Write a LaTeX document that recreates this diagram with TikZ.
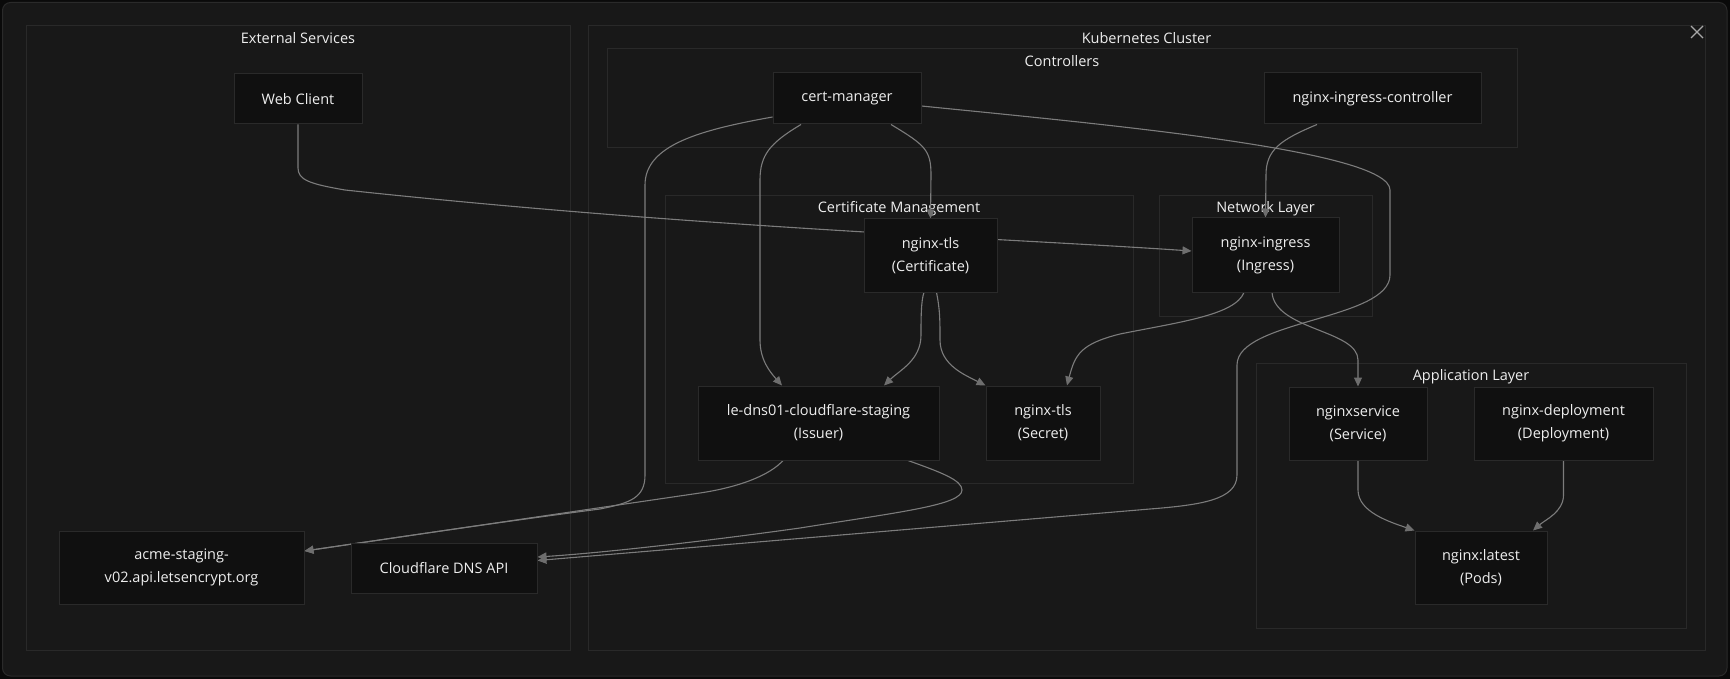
\documentclass[tikz,border=0pt]{standalone}
\usepackage{fontspec}
\setmainfont{Open Sans}
\usetikzlibrary{arrows.meta}
\pgfdeclarelayer{back}
\pgfdeclarelayer{edgelayer}
\pgfsetlayers{back,edgelayer,main}
\definecolor{outerbg}{HTML}{0A0A0A}
\definecolor{panel}{HTML}{181818}
\definecolor{panelbrd}{HTML}{2A2A2A}
\definecolor{clbrd}{HTML}{292929}
\definecolor{nodefill}{HTML}{101010}
\definecolor{nodebrd}{HTML}{2A2A2A}
\definecolor{edgec}{HTML}{7C7C7C}
\definecolor{tipc}{HTML}{6E6E6E}
\definecolor{txt}{HTML}{EEEEEE}
\definecolor{xcol}{HTML}{A8A8A8}
\begin{document}
\begin{tikzpicture}[x=1pt,y=-1pt,
  box/.style={draw=nodebrd, fill=nodefill, line width=1pt, inner sep=0pt, text=txt, align=center, font=\fontsize{14.5}{23}\selectfont},
  clus/.style={draw=clbrd, line width=1pt},
  ctitle/.style={text=txt, anchor=base, inner sep=0pt, font=\fontsize{14.5}{23}\selectfont},
  edge/.style={draw=edgec, line width=1.1pt, -{Triangle[length=9pt,width=8pt,color=tipc]}},
  closex/.style={draw=xcol, line width=1.1pt}
]
\useasboundingbox (0,0) rectangle (1730,679);
\begin{pgfonlayer}{back}
\fill[outerbg] (0,0) rectangle (1730,679);
\draw[fill=panel, draw=panelbrd, line width=1pt, rounded corners=8pt] (2.5,2.5) rectangle (1727,676);
% clusters
\draw[clus] (26,26) rectangle (570,650);
\draw[clus] (588,26) rectangle (1705,650);
\draw[clus] (607,49) rectangle (1517,148);
\draw[clus] (665,196) rectangle (1133,483);
\draw[clus] (1159,196) rectangle (1372,316);
\draw[clus] (1256,363) rectangle (1686,628);
\node[ctitle] (tExt) at (298,43.5) {External Services};
\node[ctitle] (tK8s) at (1146.5,43.5) {Kubernetes Cluster};
\node[ctitle] (tCtrl) at (1062,66.5) {Controllers};
\node[ctitle] (tCert) at (899,212.5) {Certificate Management};
\node[ctitle] (tNet) at (1265.5,212.5) {Network Layer};
\node[ctitle] (tApp) at (1471,380) {Application Layer};
% close mark
\draw[closex] (1691,26) -- (1703,38);
\draw[closex] (1703,26) -- (1691,38);
\end{pgfonlayer}

\node[box, minimum width=128pt, minimum height=50pt] (wc) at (298,99) {Web Client};
\node[box, minimum width=148pt, minimum height=51pt] (cm) at (847,98.5) {cert-manager};
\node[box, minimum width=217pt, minimum height=51pt] (nic) at (1372.5,98.5) {nginx-ingress-controller};
\node[box, minimum width=133pt, minimum height=73pt] (tls) at (930.5,255.5) {nginx-tls\\(Certificate)};
\node[box, minimum width=147pt, minimum height=74pt] (ing) at (1265.5,255) {nginx-ingress\\(Ingress)};
\node[box, minimum width=241pt, minimum height=74pt] (iss) at (818.5,423) {le-dns01-cloudflare-staging\\(Issuer)};
\node[box, minimum width=114pt, minimum height=74pt] (sec) at (1043,423) {nginx-tls\\(Secret)};
\node[box, minimum width=138pt, minimum height=73pt] (svc) at (1358,423.5) {nginxservice\\(Service)};
\node[box, minimum width=179pt, minimum height=73pt] (dep) at (1563.5,423.5) {nginx-deployment\\(Deployment)};
\node[box, minimum width=132pt, minimum height=73pt] (pods) at (1481,567.5) {nginx:latest\\(Pods)};
\node[box, minimum width=245pt, minimum height=73pt] (acme) at (181.5,567.5) {acme-staging-\\v02.api.letsencrypt.org};
\node[box, minimum width=186pt, minimum height=50pt] (cf) at (444,568) {Cloudflare DNS API};

\begin{pgfonlayer}{edgelayer}
% Web Client -> nginx-ingress
\draw[edge] (wc.south) -- (298,168) .. controls (298,180) and (310,184) .. (345,190)
  .. controls (700,228) and (1000,238) .. ([yshift=4pt]ing.west);
% cert-manager -> nginx-tls (Certificate)
\draw[edge] ([xshift=44pt]cm.south) .. controls (925,145) and (931,150) .. (931,175) -- (tls.north);
% cert-manager -> Issuer
\draw[edge] ([xshift=-46pt]cm.south) .. controls (770,143) and (760,155) .. (760,180) -- (760,340)
  .. controls (760,360) and (770,372) .. ([xshift=-36.5pt]iss.north);
% cert-manager -> acme
\draw[edge] ([yshift=-18.5pt]cm.west) .. controls (700,130) and (645,145) .. (645,185) -- (645,475)
  .. controls (645,498) and (630,503) .. (600,509) .. controls (500,522) and (400,537) .. ([yshift=16.5pt]acme.east);
% Issuer -> acme
\draw[edge] ([xshift=-35.5pt]iss.south) .. controls (770,475) and (740,487) .. (700,493)
  .. controls (550,515) and (400,537) .. ([yshift=16.5pt]acme.east);
% Issuer -> Cloudflare
\draw[edge] ([xshift=89.5pt]iss.south) .. controls (940,472) and (962,480) .. (962,490)
  .. controls (962,505) and (900,512) .. (800,528) .. controls (700,542) and (600,553) .. ([yshift=11pt]cf.east);
% cert-manager -> Cloudflare (long route)
\draw[edge] ([yshift=-7.5pt]cm.east) .. controls (1100,124) and (1390,150) .. (1390,190) -- (1390,275)
  .. controls (1390,320) and (1237,320) .. (1237,365) -- (1237,475)
  .. controls (1237,500) and (1200,505) .. (1150,509) -- ([yshift=7.5pt]cf.east);
% nginx-ingress-controller -> nginx-ingress
\draw[edge] ([xshift=-55.5pt]nic.south) .. controls (1280,140) and (1266,150) .. (1266,175) -- (ing.north);
% nginx-ingress -> Secret
\draw[edge] ([xshift=-21.5pt]ing.south) .. controls (1235,315) and (1180,322) .. (1120,334)
  .. controls (1080,344) and (1075,355) .. ([xshift=24pt]sec.north);
% nginx-ingress -> nginxservice
\draw[edge] ([xshift=6.5pt]ing.south) .. controls (1275,330) and (1358,330) .. (1358,360) -- (svc.north);
% Certificate -> Issuer
\draw[edge] ([xshift=-6.5pt]tls.south) .. controls (921,300) and (921,320) .. (921,335)
  .. controls (921,360) and (900,370) .. ([xshift=65.5pt]iss.north);
% Certificate -> Secret
\draw[edge] ([xshift=6pt]tls.south) .. controls (940,310) and (940,320) .. (940,340)
  .. controls (940,365) and (965,375) .. (sec.north west);
% nginxservice -> pods
\draw[edge] (svc.south) -- (1358,490) .. controls (1358,512) and (1390,522) .. (pods.north west);
% deployment -> pods
\draw[edge] (dep.south) -- (1563.5,495) .. controls (1563.5,512) and (1545,520) .. ([xshift=52pt]pods.north);
\end{pgfonlayer}
\end{tikzpicture}
\end{document}
